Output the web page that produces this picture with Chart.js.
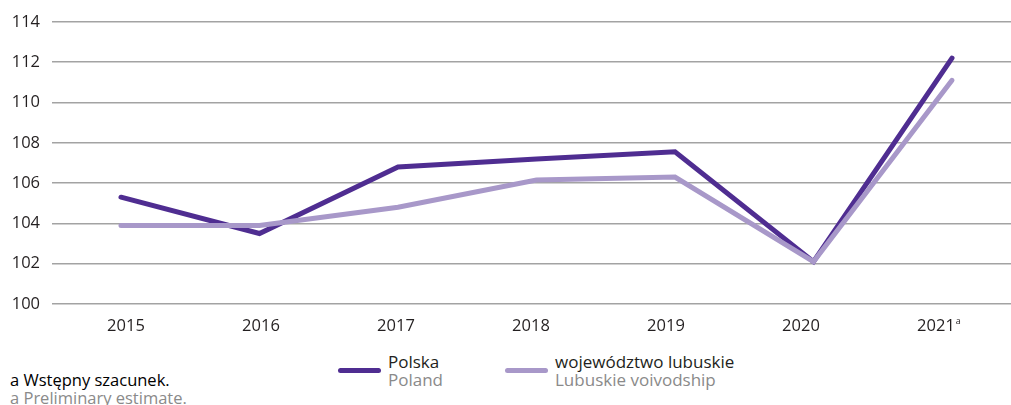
<!DOCTYPE html>
<html>
<head>
<meta charset="utf-8">
<script src="https://cdn.jsdelivr.net/npm/chart.js@4"></script>
<style>
  html, body { margin: 0; padding: 0; background: #fff; }
  body { width: 1011px; height: 405px; position: relative; overflow: hidden; font-family: "Open Sans", sans-serif; }
  #wrap { position: absolute; left: 0; top: 0; width: 1011px; height: 340px; }
  .leg { position: absolute; font-size: 17px; line-height: 18px; }
  .leg .sw { position: absolute; left: 0; top: 15px; width: 43px; height: 5px; border-radius: 3px; }
  .leg .pl { position: absolute; left: 50px; top: 0; color: #231f20; white-space: nowrap; }
  .leg .en { position: absolute; left: 50px; top: 18px; color: #8a8a8a; white-space: nowrap; }
  #note { position: absolute; left: 10px; top: 371px; font-size: 16.5px; line-height: 18px; white-space: nowrap; }
  #note .en { color: #8a8a8a; }
</style>
</head>
<body>
<div id="wrap"><canvas id="chart"></canvas></div>

<div class="leg" style="left:338px; top:353px;">
  <div class="sw" style="background:#4f2d91;"></div>
  <div class="pl">Polska</div>
  <div class="en">Poland</div>
</div>
<div class="leg" style="left:505px; top:353px;">
  <div class="sw" style="background:#a898c9;"></div>
  <div class="pl">województwo lubuskie</div>
  <div class="en">Lubuskie voivodship</div>
</div>
<div id="note">
  <div>a Wstępny szacunek.</div>
  <div class="en">a Preliminary estimate.</div>
</div>

<script>
const years = [2015, 2016, 2017, 2018, 2019, 2020, 2021];
const yearLabels = ['2015', '2016', '2017', '2018', '2019', '2020', '2021'];
const footnoteYear = 2021;
const polska = [105.3, 103.5, 106.8, 107.2, 107.55, 102.1, 112.2];
const lubuskie = [103.9, 103.9, 104.8, 106.15, 106.3, 102.1, 111.1];

const toPoints = vals => vals.map((v, i) => ({ x: years[i], y: v }));

const font = { family: '"Open Sans", sans-serif', size: 16.5 };

// small raised "a" after the preliminary year label
const footnoteMark = {
    id: 'footnoteMark',
    afterDraw(chart) {
        const scale = chart.scales.xLabels;
        const ctx = chart.ctx;
        const x = scale.getPixelForValue(footnoteYear);
        ctx.save();
        ctx.font = '16.5px "Open Sans", sans-serif';
        const w = ctx.measureText('2021').width;
        ctx.font = '9px "Open Sans", sans-serif';
        ctx.fillStyle = '#231f20';
        ctx.textAlign = 'left';
        ctx.textBaseline = 'alphabetic';
        ctx.fillText('a', x + w / 2 + 1, 324);
        ctx.restore();
    },
};

new Chart(document.getElementById('chart'), {
    type: 'line',
    data: {
        datasets: [
            {
                label: 'województwo lubuskie',
                data: toPoints(lubuskie),
                borderColor: '#a898c9',
                borderWidth: 5,
                borderCapStyle: 'round',
                pointRadius: 0,
                tension: 0,
                order: 0,
            },
            {
                label: 'Polska',
                data: toPoints(polska),
                borderColor: '#4f2d91',
                borderWidth: 5,
                borderCapStyle: 'round',
                pointRadius: 0,
                tension: 0,
                order: 1,
            },
        ],
    },
    plugins: [footnoteMark],
    options: {
        responsive: true,
        maintainAspectRatio: false,
        animation: false,
        layout: { padding: { top: 20, right: 0, left: 0, bottom: 0 } },
        plugins: {
            legend: { display: false },
            tooltip: { enabled: false },
        },
        scales: {
            x: {
                type: 'linear',
                display: false,
                min: 2014.502,
                max: 2021.426,
            },
            xLabels: {
                type: 'linear',
                position: 'bottom',
                min: 2014.452,
                max: 2021.556,
                afterBuildTicks: scale => {
                    scale.ticks = years.map(v => ({ value: v }));
                },
                afterFit: scale => { scale.height = 36; },
                grid: { display: false },
                border: { display: false },
                ticks: {
                    padding: 4,
                    color: '#231f20',
                    font: font,
                    maxRotation: 0,
                    autoSkip: false,
                    callback: v => yearLabels[years.indexOf(v)],
                },
            },
            y: {
                min: 100,
                max: 114,
                afterFit: scale => { scale.width = 52; },
                border: { display: false },
                grid: {
                    color: '#a3a3a3',
                    lineWidth: 1.5,
                    drawTicks: false,
                },
                ticks: {
                    stepSize: 2,
                    padding: 12,
                    color: '#231f20',
                    font: font,
                },
            },
        },
    },
});
</script>
</body>
</html>
